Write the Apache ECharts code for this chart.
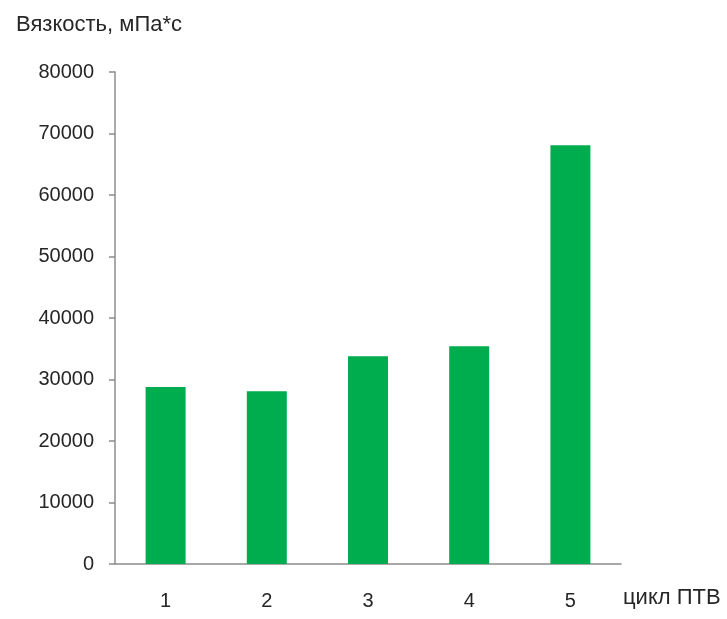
<!DOCTYPE html>
<html>
<head>
<meta charset="utf-8">
<script src="https://cdn.jsdelivr.net/npm/echarts@6/dist/echarts.min.js"></script>
<style>
html, body { margin: 0; padding: 0; background: #fff; }
#chart { width: 727px; height: 619px; }
</style>
</head>
<body>
<div id="chart"></div>
<script>
// данные
var cycles = ['1', '2', '3', '4', '5'];
var viscosity = [28800, 28100, 33800, 35400, 68100];

(function () {
	var chart = echarts.init(document.getElementById('chart'));
	var axisColor = '#8c8c8c';
	var textColor = '#262626';
	var option = {
		title: {
			text: 'Вязкость, мПа*с',
			left: 11,
			top: 9,
			textStyle: {
				fontFamily: 'Liberation Sans',
				fontSize: 22,
				fontWeight: 'normal',
				color: textColor
			}
		},
		grid: {
			left: 115,
			right: 106,
			top: 72,
			bottom: 55
		},
		xAxis: {
			type: 'category',
			data: cycles,
			name: 'цикл ПТВ',
			nameLocation: 'end',
			nameGap: 2,
			nameTextStyle: {
				fontFamily: 'Liberation Sans',
				fontSize: 22,
				color: textColor,
				align: 'left',
				verticalAlign: 'top',
				padding: [23, 0, 0, 0]
			},
			axisLine: { lineStyle: { color: axisColor, width: 1.5 } },
			axisTick: { length: 6, lineStyle: { color: axisColor, width: 1.5 } },
			axisLabel: {
				margin: 27,
				fontFamily: 'Liberation Sans',
				fontSize: 20,
				color: textColor
			}
		},
		yAxis: {
			type: 'value',
			min: 0,
			max: 80000,
			interval: 10000,
			splitLine: { show: false },
			axisLine: { show: true, lineStyle: { color: axisColor, width: 1.5 } },
			axisTick: { show: true, length: 6, lineStyle: { color: axisColor, width: 1.5 } },
			axisLabel: {
				margin: 21,
				fontFamily: 'Liberation Sans',
				fontSize: 20,
				color: textColor,
				formatter: function (v) { return String(v); }
			}
		},
		series: [
			{
				type: 'bar',
				data: viscosity,
				barWidth: 40,
				itemStyle: { color: '#00ad4e' }
			}
		]
	};
	chart.setOption(option);
})();
</script>
</body>
</html>
